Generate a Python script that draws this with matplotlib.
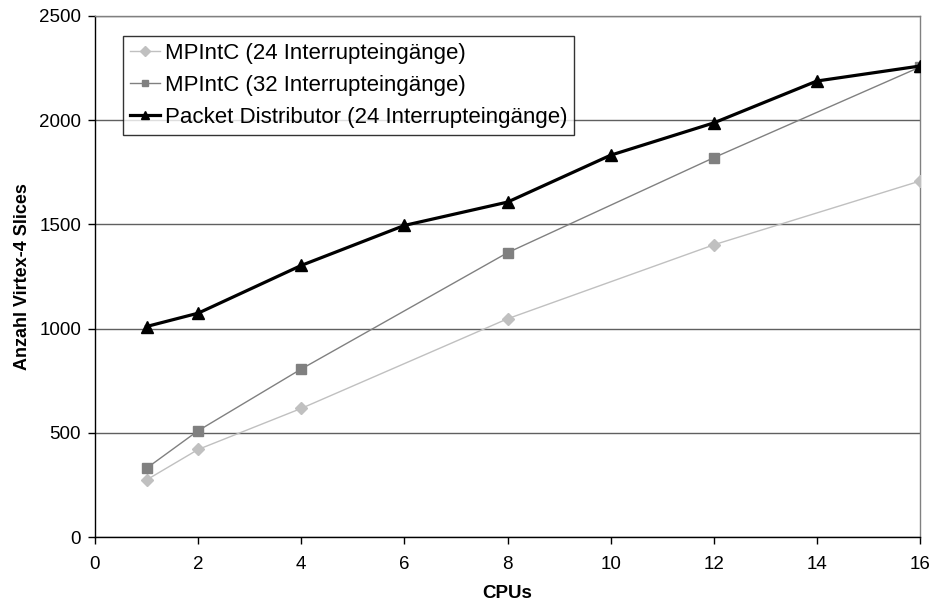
import matplotlib
matplotlib.use("Agg")
import matplotlib.pyplot as plt

plt.rcParams['font.family'] = ['Liberation Sans', 'DejaVu Sans']

cpus_mpintc = [1, 2, 4, 8, 12, 16]
mpintc_24 = [274, 420, 617, 1047, 1402, 1708]
mpintc_32 = [330, 510, 806, 1364, 1820, 2255]
cpus_pd = [1, 2, 4, 6, 8, 10, 12, 14, 16]
packet_dist = [1010, 1074, 1303, 1495, 1607, 1832, 1987, 2188, 2260]

x_ticks = list(range(0, 17, 2))
y_ticks = list(range(0, 2501, 500))

fig = plt.figure(figsize=(9.34, 6.10), dpi=100)
ax = fig.add_axes([95/934, 1 - 537/610, (920 - 95)/934, (537 - 16)/610])

ax.plot(cpus_mpintc, mpintc_24, color='#c0c0c0', lw=1.0, marker='D', ms=6.5,
        mfc='#c0c0c0', mec='#c0c0c0', label='MPIntC (24 Interrupteingänge)', zorder=3)
ax.plot(cpus_mpintc, mpintc_32, color='#808080', lw=1.0, marker='s', ms=6.5,
        mfc='#808080', mec='#808080', label='MPIntC (32 Interrupteingänge)', zorder=4)
ax.plot(cpus_pd, packet_dist, color='black', lw=2.3, marker='^', ms=8,
        mfc='black', mec='black', label='Packet Distributor (24 Interrupteingänge)', zorder=5)

ax.set_xlim(0, 16)
ax.set_ylim(0, 2500)
ax.set_xticks(x_ticks)
ax.set_yticks(y_ticks)
ax.yaxis.grid(True, color='#606060', lw=1)
ax.set_axisbelow(True)

for side in ('top', 'right'):
    ax.spines[side].set_color('#808080')
    ax.spines[side].set_linewidth(1)
for side in ('left', 'bottom'):
    ax.spines[side].set_color('black')
    ax.spines[side].set_linewidth(1)

ax.tick_params(axis='y', direction='out', length=5, width=1, labelsize=13.5, pad=5)
ax.tick_params(axis='x', direction='out', length=5, width=1, labelsize=13.5, pad=9)

ax.set_xlabel('CPUs', fontsize=13.5, fontweight='bold', labelpad=8)
ax.set_ylabel('Anzahl Virtex-4 Slices', fontsize=13, fontweight='bold', labelpad=6)

leg = ax.legend(loc='upper left', bbox_to_anchor=(28/825, 1 - 20/521), fontsize=16,
                frameon=True, fancybox=False, handlelength=1.35, handletextpad=0.25,
                borderpad=0.3, labelspacing=0.5, markerscale=0.75, borderaxespad=0)
leg.get_frame().set_edgecolor('black')
leg.get_frame().set_linewidth(1)

fig.savefig('out.png', dpi=100)
